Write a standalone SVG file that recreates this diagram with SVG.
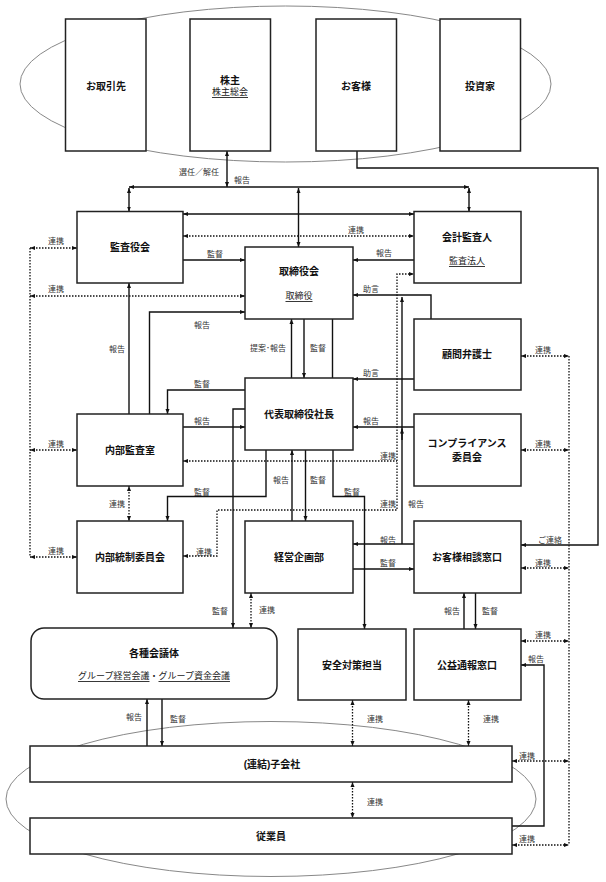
<svg xmlns="http://www.w3.org/2000/svg" width="606" height="882" viewBox="0 0 606 882">
<defs>
<marker id="a" viewBox="0 0 10 10" refX="10" refY="5" markerWidth="5" markerHeight="5" markerUnits="userSpaceOnUse" orient="auto-start-reverse"><path d="M0,1 L10,5 L0,9 z" fill="#111"/></marker>
<style>
.box{fill:#fff;stroke:#222;stroke-width:1.5}
.ln{fill:none;stroke:#111;stroke-width:1.4}
.dt{fill:none;stroke:#111;stroke-width:1.3;stroke-dasharray:1.5 1.5}
.el{fill:none;stroke:#888;stroke-width:1}
.e{marker-end:url(#a)}
.b{marker-start:url(#a);marker-end:url(#a)}
.s0{marker-start:url(#a)}
text{font-family:"Liberation Sans","Noto Sans CJK JP",sans-serif;text-anchor:middle;dominant-baseline:central}
.t{font-size:10px;font-weight:bold;fill:#111}
.u{font-size:9px;text-decoration:underline;fill:#222}
.l{font-size:8px;fill:#333}
</style>
</defs>
<rect width="606" height="882" fill="#fff"/>
<ellipse class="el" cx="285.5" cy="84" rx="265.5" ry="78"/>
<ellipse class="el" cx="271" cy="799" rx="265" ry="77.5"/>

<g id="connectors">
<path class="ln b" d="M227,187 V151"/>
<path class="ln b" d="M129,187 H469"/>
<path class="ln b" d="M129,188 V211.5"/>
<path class="ln b" d="M298.5,188 V247"/>
<path class="ln b" d="M469,188 V211.5"/>
<path class="ln b" d="M183,214 H414"/>
<path class="dt b" d="M183,236 H414"/>
<path class="ln e" d="M183,260 H245"/>
<path class="ln e" d="M414,260 H353"/>
<path class="dt" d="M30,248 V557"/>
<path class="dt b" d="M30,248 H77"/>
<path class="dt b" d="M30,296 H245"/>
<path class="dt b" d="M30,450 H77"/>
<path class="dt b" d="M30,557 H77"/>
<path class="ln e" d="M129,414 V283"/>
<path class="ln e" d="M149.5,414 V312 H245"/>
<path class="ln e" d="M291.5,378 V319"/>
<path class="ln e" d="M304,319 V378"/>
<path class="ln" d="M332.5,319 V378"/>
<path class="ln e" d="M431,319 V295 H353"/>
<path class="ln e" d="M414,379 H353"/>
<path class="ln e" d="M414,427 H353"/>
<path class="ln e" d="M402,544 V297"/>
<path class="ln e" d="M402,440 V428.5"/>
<path class="ln e" d="M414,544 H353"/>
<path class="ln e" d="M353,569 H414"/>
<path class="dt b" d="M183,556 H217 V510 H397 V274 H414"/>
<path class="dt s0" d="M183,461 H397"/>
<path class="ln e" d="M245,390 H167.5 V414"/>
<path class="ln e" d="M183,427 H245"/>
<path class="dt b" d="M129,486 V521"/>
<path class="ln e" d="M266,450 V496.5 H167.5 V521"/>
<path class="ln e" d="M245,409 H233 V628"/>
<path class="dt b" d="M251,593 V628"/>
<path class="ln e" d="M292,521 V450"/>
<path class="ln e" d="M305.5,450 V521"/>
<path class="ln e" d="M333,450 V496.5 H364.5 V629"/>
<path class="ln e" d="M357,151 V168 H598 V545 H521"/>
<path class="dt" d="M569,356 V845"/>
<path class="dt b" d="M521,356 H569"/>
<path class="dt b" d="M521,450 H569"/>
<path class="dt b" d="M521,568 H569"/>
<path class="dt b" d="M521,641 H569"/>
<path class="dt b" d="M512,761 H569"/>
<path class="dt b" d="M512,845 H569"/>
<path class="ln e" d="M464,629 V593"/>
<path class="ln e" d="M475.5,593 V629"/>
<path class="ln e" d="M512,826 H544 V665 H521"/>
<path class="dt b" d="M352.5,700 V746"/>
<path class="dt b" d="M468.5,700 V746"/>
<path class="dt b" d="M352.5,782 V818"/>
<path class="ln e" d="M147,746 V699"/>
<path class="ln e" d="M162,699 V746"/>
</g>

<g id="labels">
<text class="l" x="199" y="172">選任／解任</text>
<text class="l" x="242" y="180">報告</text>
<text class="l" x="356" y="230">連携</text>
<text class="l" x="215" y="254">監督</text>
<text class="l" x="384" y="253">報告</text>
<text class="l" x="56" y="241.5">連携</text>
<text class="l" x="56" y="289">連携</text>
<text class="l" x="56" y="444">連携</text>
<text class="l" x="56" y="551">連携</text>
<text class="l" x="117" y="349">報告</text>
<text class="l" x="202" y="325">報告</text>
<text class="l" x="268" y="348">提案･報告</text>
<text class="l" x="318" y="348">監督</text>
<text class="l" x="371" y="289">助言</text>
<text class="l" x="371" y="373">助言</text>
<text class="l" x="371" y="421">報告</text>
<text class="l" x="416" y="504">報告</text>
<text class="l" x="388" y="540">報告</text>
<text class="l" x="388" y="563">監督</text>
<text class="l" x="388" y="456.5">連携</text>
<text class="l" x="388" y="504">連携</text>
<text class="l" x="204" y="552">連携</text>
<text class="l" x="202" y="384">監督</text>
<text class="l" x="202" y="421">報告</text>
<text class="l" x="117" y="504">連携</text>
<text class="l" x="202" y="492">監督</text>
<text class="l" x="220" y="611">監督</text>
<text class="l" x="267" y="610">連携</text>
<text class="l" x="281" y="480">報告</text>
<text class="l" x="318" y="480">監督</text>
<text class="l" x="352" y="492">監督</text>
<text class="l" x="550" y="540">ご連絡</text>
<text class="l" x="543" y="350">連携</text>
<text class="l" x="543" y="444">連携</text>
<text class="l" x="543" y="563">連携</text>
<text class="l" x="543" y="635">連携</text>
<text class="l" x="527" y="756.5">連携</text>
<text class="l" x="527" y="839">連携</text>
<text class="l" x="452" y="611">報告</text>
<text class="l" x="490" y="611">監督</text>
<text class="l" x="536" y="659">報告</text>
<text class="l" x="375" y="719">連携</text>
<text class="l" x="491" y="719">連携</text>
<text class="l" x="375" y="802">連携</text>
<text class="l" x="134" y="717">報告</text>
<text class="l" x="178" y="719">監督</text>
</g>

<g id="n-torihikisaki"><rect class="box" x="65.5" y="19" width="80.5" height="132"/><text class="t" x="106" y="86">お取引先</text></g>
<g id="n-kabunushi"><rect class="box" x="190" y="19" width="80.5" height="132"/><text class="t" x="230" y="80">株主</text><text class="u" x="230" y="92">株主総会</text></g>
<g id="n-okyakusama"><rect class="box" x="316" y="19" width="80.5" height="132"/><text class="t" x="356" y="86">お客様</text></g>
<g id="n-toushika"><rect class="box" x="440" y="19" width="80.5" height="132"/><text class="t" x="480" y="86">投資家</text></g>

<g id="n-kansayakukai"><rect class="box" x="77" y="211.5" width="106" height="71.5"/><text class="t" x="130" y="247">監査役会</text></g>
<g id="n-torishimariyakukai"><rect class="box" x="245" y="247" width="108" height="72"/><text class="t" x="299" y="271">取締役会</text><text class="u" x="299" y="296">取締役</text></g>
<g id="n-kaikei"><rect class="box" x="414" y="211.5" width="107" height="71.5"/><text class="t" x="467" y="237">会計監査人</text><text class="u" x="467" y="261">監査法人</text></g>
<g id="n-komon"><rect class="box" x="414" y="319" width="107" height="71"/><text class="t" x="467" y="354.5">顧問弁護士</text></g>
<g id="n-daihyo"><rect class="box" x="245" y="378" width="108" height="72"/><text class="t" x="299" y="414.5">代表取締役社長</text></g>
<g id="n-naibukansa"><rect class="box" x="77" y="414" width="106" height="72"/><text class="t" x="130" y="450">内部監査室</text></g>
<g id="n-compliance"><rect class="box" x="414" y="414" width="107" height="72"/><text class="t" x="467" y="443">コンプライアンス</text><text class="t" x="467" y="457">委員会</text></g>
<g id="n-naibutousei"><rect class="box" x="77" y="521" width="106" height="72"/><text class="t" x="130" y="557">内部統制委員会</text></g>
<g id="n-keiei"><rect class="box" x="245" y="521" width="108" height="72"/><text class="t" x="299" y="557">経営企画部</text></g>
<g id="n-soudan"><rect class="box" x="414" y="521" width="107" height="72"/><text class="t" x="467" y="557">お客様相談窓口</text></g>
<g id="n-kaigitai"><rect class="box" x="31" y="628" width="246" height="71" rx="13"/><text class="t" x="154" y="653">各種会議体</text><text class="u" x="154" y="676" style="text-decoration:none"><tspan style="text-decoration:underline">グループ経営会議</tspan>・<tspan style="text-decoration:underline">グループ資金会議</tspan></text></g>
<g id="n-anzen"><rect class="box" x="298" y="629" width="108" height="71"/><text class="t" x="352" y="665">安全対策担当</text></g>
<g id="n-koueki"><rect class="box" x="414" y="629" width="107" height="71"/><text class="t" x="467" y="665">公益通報窓口</text></g>
<g id="n-kogaisha"><rect class="box" x="30" y="746" width="482" height="36"/><text class="t" x="272" y="764">(連結)子会社</text></g>
<g id="n-jugyoin"><rect class="box" x="30" y="818" width="482" height="36"/><text class="t" x="271" y="836.5">従業員</text></g>
</svg>
